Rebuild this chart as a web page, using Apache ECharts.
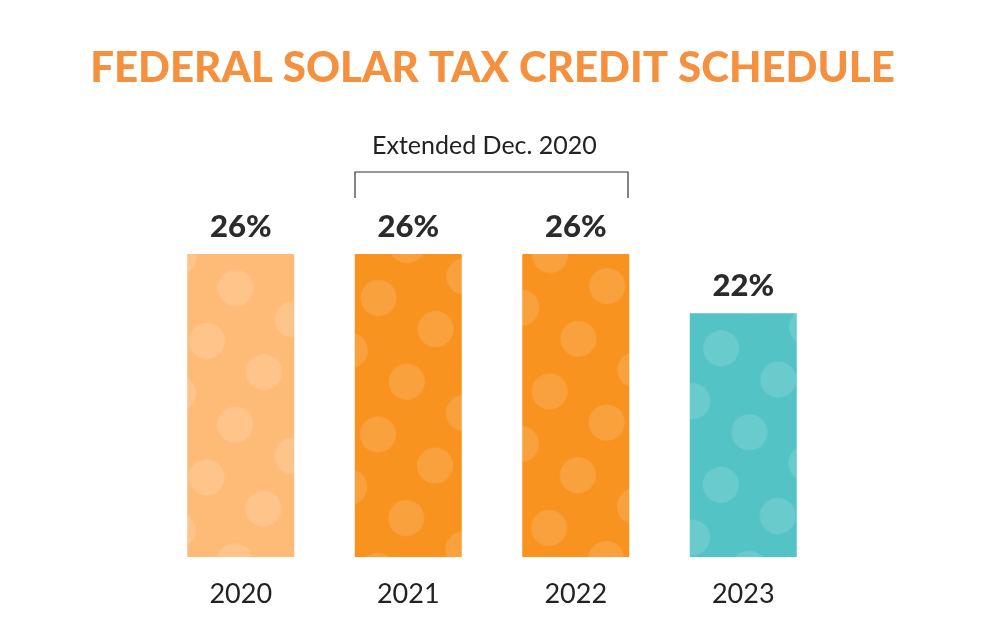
<!DOCTYPE html>
<html><head><meta charset="utf-8">
<script src="https://cdn.jsdelivr.net/npm/echarts@6/dist/echarts.min.js"></script>
<style>html,body{margin:0;background:#fff}#c{width:985px;height:640px}</style>
</head><body><div id="c"></div>
<script>
const categories = ['2020','2021','2022','2023'];
const values = [26,26,26,22];
const colors = ['#FEBB78','#F8931F','#F8931F','#54C3C6'];
const chart = echarts.init(document.getElementById('c'));
chart.setOption({
  backgroundColor:'#fff',
  title:{text:'FEDERAL SOLAR TAX CREDIT SCHEDULE',left:'center',top:42,
    textStyle:{color:'#F5913E',fontFamily:'Lato',fontWeight:900,fontSize:42}},
  grid:{left:157,right:158,top:195,bottom:83},
  xAxis:{type:'category',data:categories,axisLine:{show:false},axisTick:{show:false},
    axisLabel:{color:'#222',fontFamily:'Lato',fontSize:27,margin:24}},
  yAxis:{type:'value',min:5.5,max:30,show:false,splitLine:{show:false}},
  series:[{type:'bar',barWidth:107,
    data:values.map((v,i)=>({value:v,itemStyle:{color:colors[i],
      decal:{symbol:'circle',symbolSize:0.9,color:'rgba(255,255,255,0.13)',
        dashArrayX:[[40,25]],dashArrayY:[40,20],rotation:0.5}}})),
    label:{show:true,position:'top',distance:12,formatter:'{c}%',color:'#2b2b2b',
      fontFamily:'Lato',fontWeight:900,fontSize:31}}],
  graphic:[
    {type:'polyline',shape:{points:[[355,198],[355,172],[628,172],[628,198]]},
      style:{stroke:'#333',lineWidth:1.2,fill:null}},
    {type:'text',left:372,top:133,style:{text:'Extended Dec. 2020',fill:'#222',
      font:'25px Lato'}}
  ]
});
</script></body></html>
